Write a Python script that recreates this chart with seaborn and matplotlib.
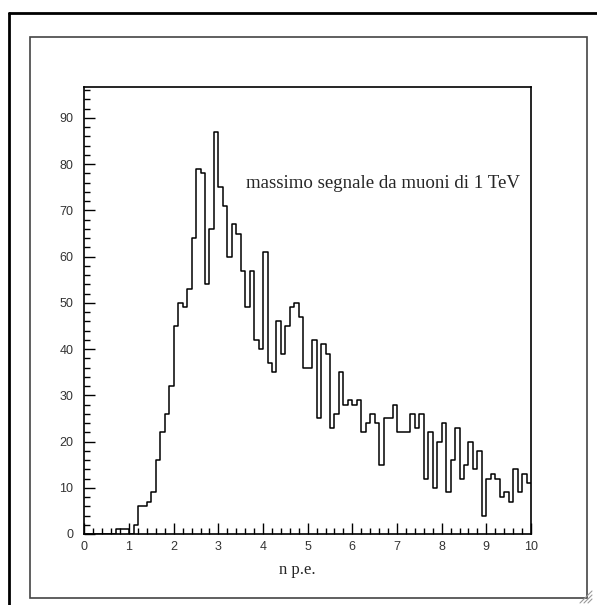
import numpy as np
import pandas as pd
import matplotlib
matplotlib.use("Agg")
import matplotlib.pyplot as plt
from matplotlib.lines import Line2D
from matplotlib.patches import Rectangle
from matplotlib.ticker import MultipleLocator
import seaborn as sns

# conteggi per bin (larghezza 0.1, da 0 a 10)
counts = [
    0, 0, 0, 0, 0, 0, 0, 1, 1, 1,
    0, 2, 6, 6, 7, 9, 16, 22, 26, 32,
    45, 50, 49, 53, 64, 79, 78, 54, 66, 87,
    75, 71, 60, 67, 65, 57, 49, 57, 42, 40,
    61, 37, 35, 46, 39, 45, 49, 50, 47, 36,
    36, 42, 25, 41, 39, 23, 26, 35, 28, 29,
    28, 29, 22, 24, 26, 24, 15, 25, 25, 28,
    22, 22, 22, 26, 23, 26, 12, 22, 10, 20,
    24, 9, 16, 23, 12, 15, 20, 14, 18, 4,
    12, 13, 12, 8, 9, 7, 14, 9, 13, 11,
]
x_min, x_max = 0, 10
bin_width = 0.1
y_max = 96.7
x_label = "n p.e."
annotation = "massimo segnale da muoni di 1 TeV"

edges = np.linspace(x_min, x_max, len(counts) + 1)
df = pd.DataFrame({"npe": (edges[:-1] + edges[1:]) / 2, "n": counts})

sns.set_style("white")
plt.rcParams["font.family"] = ["Liberation Sans", "DejaVu Sans"]

W, H = 597, 605
fig = plt.figure(figsize=(W / 100, H / 100), dpi=100)
fig.patch.set_facecolor("white")

# cornici esterne
fig.add_artist(Line2D([9 / W, 9 / W], [0, 1 - 13 / H], color="black", lw=2))
fig.add_artist(Line2D([9 / W, 1], [1 - 13 / H, 1 - 13 / H], color="black", lw=2))
fig.add_artist(Rectangle((30 / W, 1 - 598 / H), (587 - 30) / W, (598 - 37) / H,
                         fill=False, edgecolor="#444444", lw=1.2))
# maniglia in basso a destra
for d in (4, 8, 12):
    fig.add_artist(Line2D([(592 - d) / W, 592 / W], [1 - 603 / H, 1 - (603 - d) / H],
                          color="#999999", lw=0.8))

ax = fig.add_axes([84.4 / W, 1 - 534 / H, (531 - 84.4) / W, (534 - 87) / H])
sns.histplot(data=df, x="npe", weights="n", binwidth=bin_width,
             binrange=(x_min, x_max), element="step", fill=False,
             color="black", linewidth=1.1, ax=ax)

ax.set_xlim(x_min, x_max)
ax.set_ylim(0, y_max)
ax.xaxis.set_major_locator(MultipleLocator(1))
ax.xaxis.set_minor_locator(MultipleLocator(0.2))
ax.yaxis.set_major_locator(MultipleLocator(10))
ax.yaxis.set_minor_locator(MultipleLocator(2))
ax.tick_params(which="both", direction="in", top=False, right=False,
               bottom=True, left=True, color="black", width=1)
ax.tick_params(which="major", length=8, labelsize=9, labelcolor="#333333")
ax.tick_params(which="minor", length=4)
ax.tick_params(axis="x", which="major", pad=5)
ax.tick_params(axis="y", which="major", pad=8)
for s in ax.spines.values():
    s.set_color("black")
    s.set_linewidth(1.2)

ax.set_ylabel("")
ax.set_xlabel(x_label, family=["Liberation Serif", "DejaVu Serif"], fontsize=12)
ax.xaxis.set_label_coords(0.477, -0.063)
ax.text(0.362, 0.785, annotation, transform=ax.transAxes, ha="left", va="center",
        family=["Liberation Serif", "DejaVu Serif"], fontsize=13.6)

fig.savefig("out.png", dpi=100)
